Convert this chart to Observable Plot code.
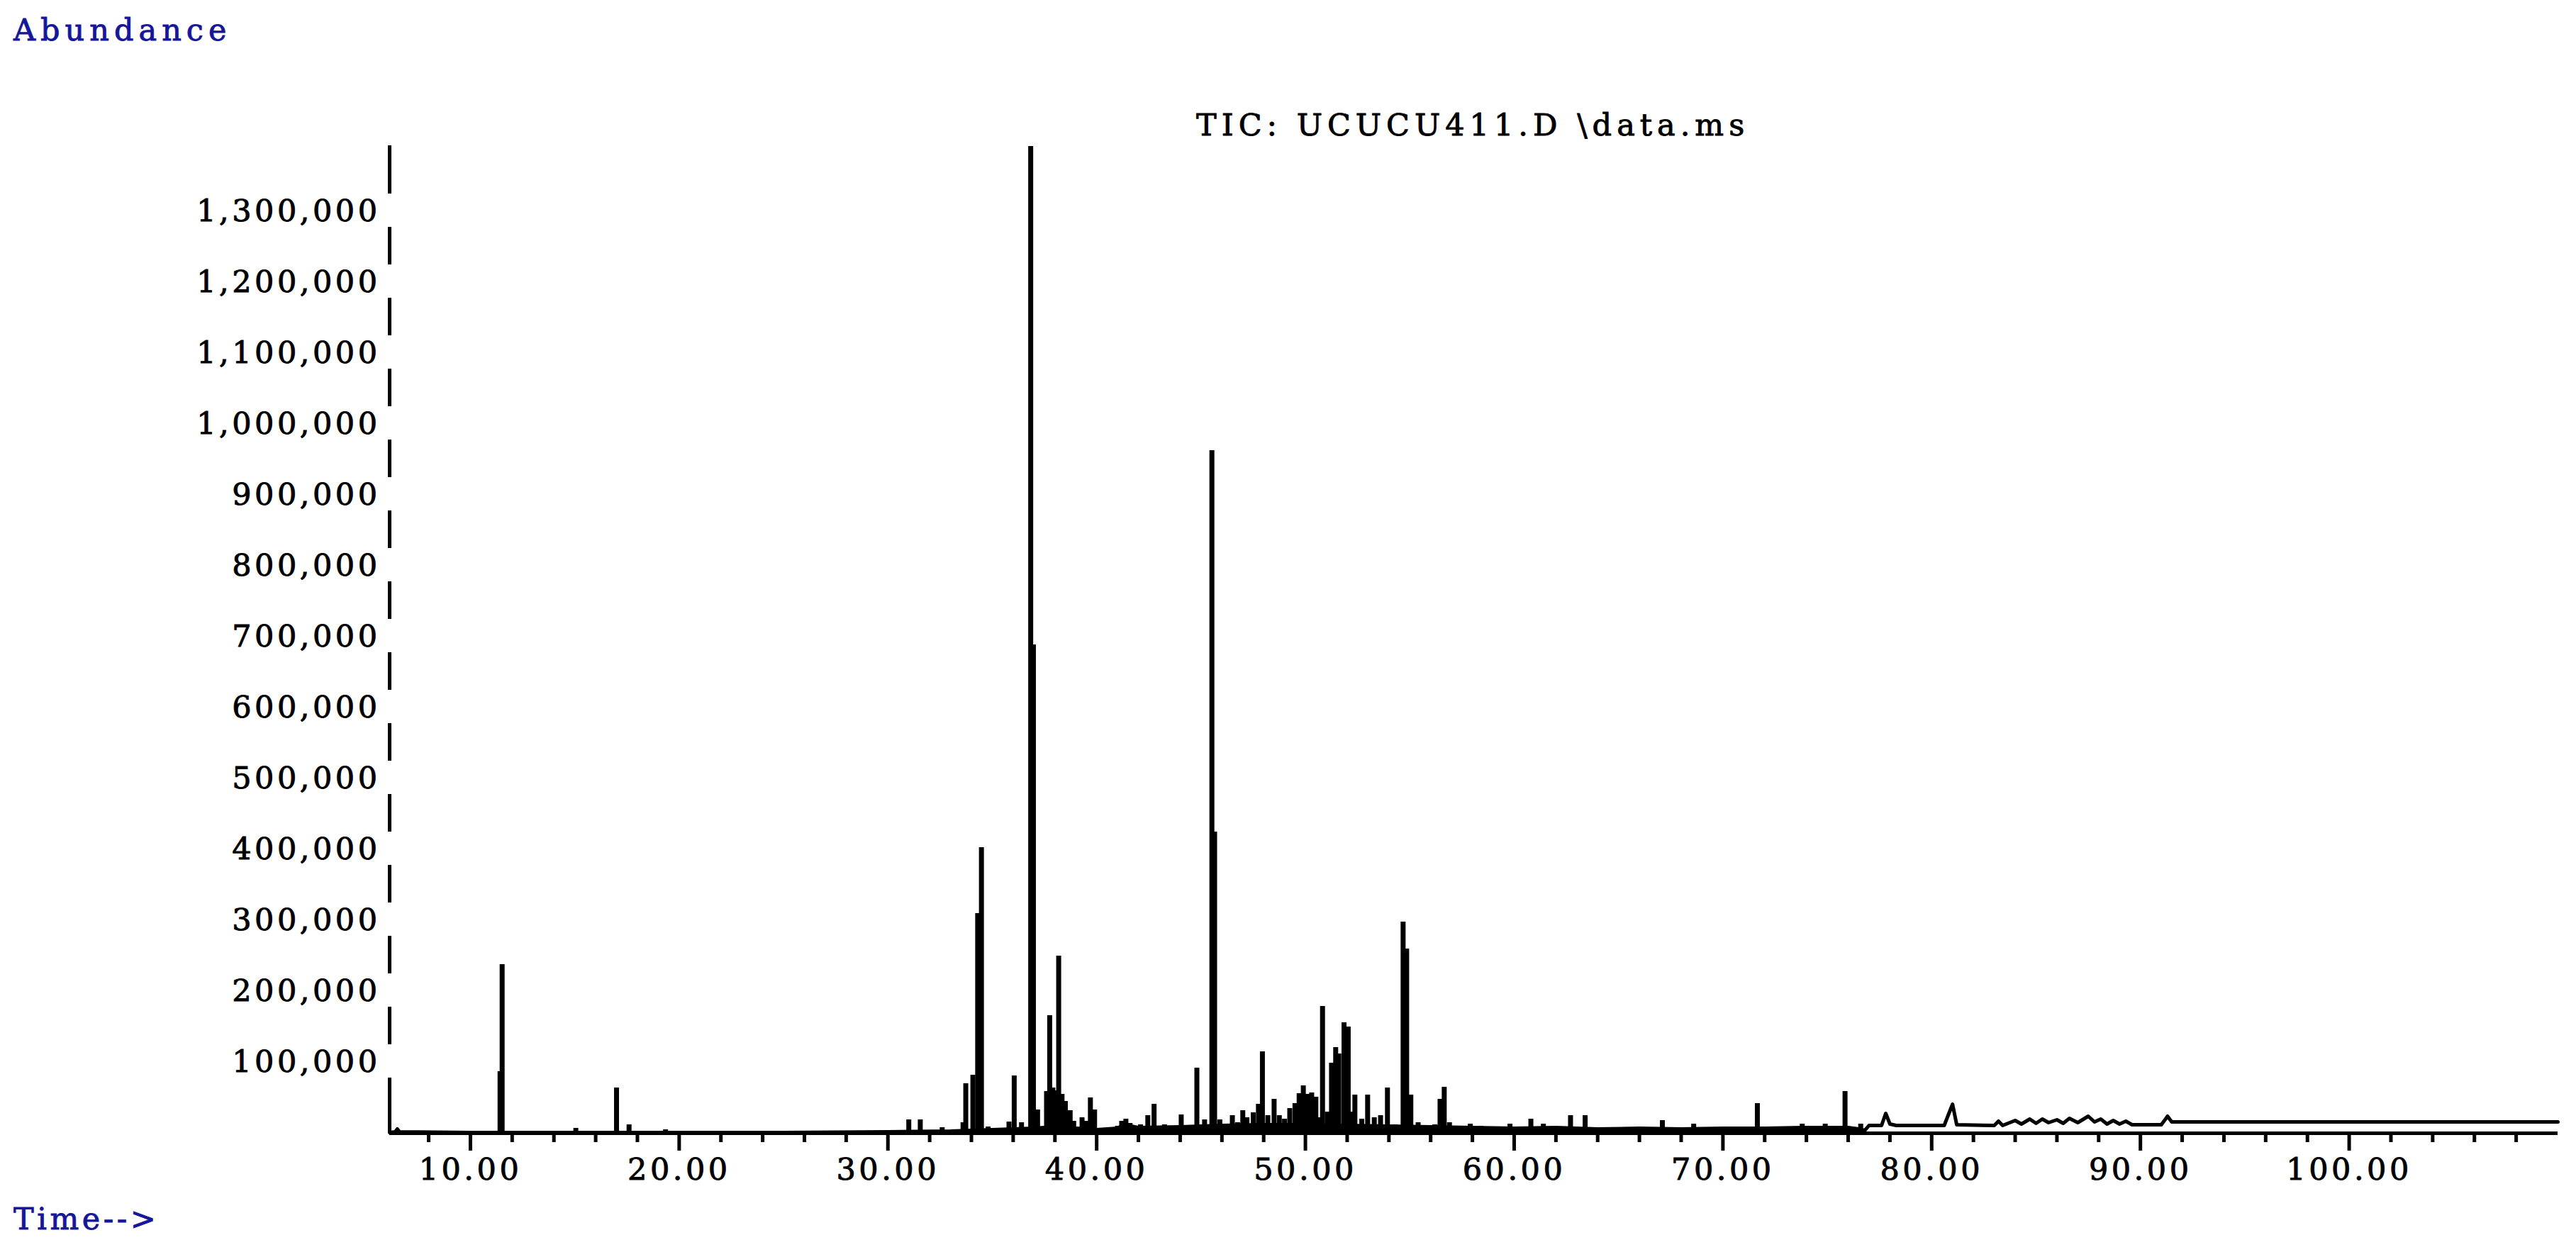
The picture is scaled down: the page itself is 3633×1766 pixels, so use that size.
<!DOCTYPE html>
<html>
<head>
<meta charset="utf-8">
<script src="https://cdn.jsdelivr.net/npm/d3@7"></script>
<script src="https://cdn.jsdelivr.net/npm/@observablehq/plot@0.6"></script>
<style>
  html, body { margin: 0; padding: 0; background: #fff; }
  #page { position: relative; width: 3633px; height: 1766px; overflow: hidden; font-family: "DejaVu Serif", serif; }
  #header { position: relative; height: 200px; }
  #footer { position: relative; height: 86px; }
  .lbl { position: absolute; font-size: 43px; line-height: 43px; white-space: pre; -webkit-text-stroke: 0.9px currentColor; }
  #ylab { left: 19px; top: 21px; color: #16169a; letter-spacing: 7px; }
  #title { left: 1687px; top: 155px; color: #000; letter-spacing: 7px; }
  #xlab { left: 19px; top: 18px; color: #16169a; letter-spacing: 4.5px; }
  #chart svg { display: block; }
  #chart svg text { stroke: #000; stroke-width: 0.9px; }
</style>
</head>
<body>
<div id="page">
  <div id="header">
    <div id="ylab" class="lbl">Abundance</div>
    <div id="title" class="lbl">TIC: UCUCU411.D \data.ms</div>
  </div>
  <div id="chart"></div>
  <div id="footer">
    <div id="xlab" class="lbl">Time--&gt;</div>
  </div>
</div>
<script>
// ---- axis ranges and tick labels ----
const xDomain = [6.13, 110.0];
const yTop = 1393000;
const xMajorTicks = [10, 20, 30, 40, 50, 60, 70, 80, 90, 100];
const xMinorTicks = [8, 12, 14, 16, 18, 22, 24, 26, 28, 32, 34, 36, 38, 42, 44, 46, 48,
  52, 54, 56, 58, 62, 64, 66, 68, 72, 74, 76, 78, 82, 84, 86, 88, 92, 94, 96, 98,
  102, 104, 106, 108];
const yTicks = [100000, 200000, 300000, 400000, 500000, 600000, 700000,
  800000, 900000, 1000000, 1100000, 1200000, 1300000];

// ---- chromatogram peaks (retention time in min, abundance) ----
const peakTime = [
  11.42, 11.52, 15.05, 17.00, 17.60, 19.35,
  31.00, 31.55, 32.60, 33.60, 33.73, 34.07, 34.30, 34.48, 34.80, 35.30, 35.80, 36.05, 36.40,
  36.84, 36.97, 37.17, 37.60, 37.75, 37.90, 38.05, 38.18, 38.34, 38.50, 38.73, 38.90,
  39.30, 39.50, 39.70, 39.90, 40.50, 41.00, 41.20, 41.40, 41.60, 41.80,
  42.10, 42.45, 42.75, 43.00, 43.25, 43.60, 44.05, 44.35, 44.80, 45.17, 45.52, 45.65,
  45.90, 46.20, 46.50, 46.75, 47.00, 47.20, 47.50, 47.75, 47.94, 48.20, 48.50, 48.75,
  49.00, 49.25, 49.50, 49.70, 49.90, 50.10, 50.30, 50.50, 50.65, 50.82, 51.05, 51.25,
  51.45, 51.60, 51.85, 52.05, 52.20, 52.37, 52.70, 52.98, 53.30, 53.60, 53.93, 54.30,
  54.68, 54.85, 55.05, 55.40, 55.80, 56.20, 56.45, 56.65, 56.90, 57.30, 57.90, 58.40,
  59.10, 59.80, 60.80, 61.40, 62.70, 63.40, 64.50, 65.00, 65.30, 67.10, 68.60,
  71.65, 73.80, 74.90, 75.85, 76.60
];
const peakAbundance = [
  87000, 238000, 7000, 64000, 12000, 5000,
  19000, 19000, 8000, 15000, 70000, 82000, 310000, 403000, 9000, 5000, 16000, 81000, 15000,
  1392000, 689000, 33000, 59000, 166000, 64000, 60000, 250000, 55000, 45000, 32000, 17000,
  22000, 17000, 50000, 33000, 4000, 10000, 17000, 20000, 14000, 8000,
  12000, 25000, 41000, 10000, 12000, 8000, 26000, 8000, 92000, 19000, 963000, 425000,
  19000, 12000, 25000, 15000, 32000, 22000, 29000, 41000, 115000, 25000, 48000, 25000,
  20000, 35000, 42000, 56000, 67000, 55000, 57000, 51000, 22000, 179000, 30000, 99000,
  121000, 112000, 156000, 150000, 30000, 54000, 20000, 54000, 22000, 25000, 64000, 12000,
  298000, 260000, 54000, 15000, 10000, 12000, 48000, 65000, 15000, 10000, 13000, 10000,
  6000, 13000, 20000, 13000, 25000, 25000, 8000, 8000, 8000, 18000, 13000,
  42000, 13000, 13000, 59000, 13000
];

// ---- background trace of the signal (min, abundance) ----
const traceTime = [
  6.13, 6.40, 6.50, 6.60, 10.0, 15.0, 20.0, 25.0, 30.0, 33.0, 35.0, 37.0, 38.0, 40.0,
  41.0, 41.3, 42.0, 44.0, 46.0, 48.0, 50.0, 52.0, 54.0, 56.0, 58.0, 60.0, 62.0, 64.0,
  66.0, 68.0, 70.0, 72.0, 74.0, 76.0, 76.5, 76.8, 77.0, 77.6, 77.8, 78.0, 78.3, 80.6, 80.8,
  81.0, 81.2, 83.0, 83.2, 83.4, 84.0, 84.3, 84.7, 85.0, 85.3, 85.6, 86.0, 86.3, 86.6,
  87.0, 87.5, 87.8, 88.1, 88.4, 88.7, 89.0, 89.3, 89.6, 91.0, 91.3, 91.5, 110.0
];
const traceAbundance = [
  1000, 2000, 6000, 2000, 1000, 1000, 1000, 1000, 2000, 3000, 5000, 7000, 9000, 5000,
  7000, 12000, 8000, 9000, 11000, 12000, 12000, 11000, 10000, 9000, 8000, 7000, 8000, 6000,
  7000, 6000, 7000, 7000, 8000, 8000, 6000, 4000, 11000, 11000, 28000, 13000, 11000, 11000, 26000,
  41000, 12000, 11000, 17000, 11000, 18000, 13000, 20000, 14000, 20000, 15000, 19000, 14000, 21000,
  15000, 24000, 16000, 20000, 13000, 18000, 13000, 17000, 12000, 12000, 24000, 16000, 16000
];
// the trace sits on the time axis up to this retention time, then lifts off
const liftOff = 76.8;

const peaks = peakTime.map((t, i) => ({t, v: peakAbundance[i]}));
const trace = traceTime.map((t, i) => ({t, v: traceAbundance[i]}));
const traceLow = trace.filter(d => d.t <= liftOff);

// broken y-axis line: segments between the tick labels
const yAxisSegs = [0, ...yTicks].map(b => ({
  y1: b === 0 ? 0 : b + 25000,
  y2: b === yTicks[yTicks.length - 1] ? yTop : b + 78000
}));

const chart = Plot.plot({
  width: 3633,
  height: 1480,
  marginLeft: 549,
  marginRight: 26,
  marginTop: 5,
  marginBottom: 82,
  x: {domain: xDomain},
  y: {domain: [0, yTop]},
  style: {
    fontFamily: "DejaVu Serif, serif",
    fontSize: "43px",
    letterSpacing: "4.5px",
    color: "#000",
    background: "#fff",
    overflow: "visible"
  },
  marks: [
    Plot.areaY(traceLow, {x: "t", y: "v", fill: "#000"}),
    Plot.ruleY([0], {stroke: "#000", strokeWidth: 5}),
    Plot.ruleX(yAxisSegs, {x: xDomain[0], y1: "y1", y2: "y2", stroke: "#000", strokeWidth: 5}),
    Plot.axisY(yTicks, {tickSize: 0, tickPadding: 13, tickFormat: d3.format(","), label: null}),
    Plot.axisX(xMinorTicks, {tickSize: 13, strokeWidth: 5, tickFormat: () => "", label: null}),
    Plot.axisX(xMajorTicks, {tickSize: 25, strokeWidth: 5, tickPadding: 10, tickFormat: d => d.toFixed(2), label: null}),
    Plot.line(trace, {x: "t", y: "v", stroke: "#000", strokeWidth: 5}),
    Plot.ruleX(peaks, {x: "t", y1: 0, y2: "v", stroke: "#000", strokeWidth: 7})
  ]
});
document.getElementById("chart").appendChild(chart);
</script>
</body>
</html>
